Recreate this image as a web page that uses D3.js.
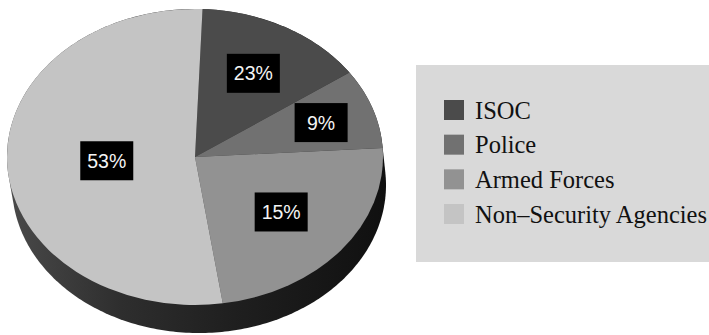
<!DOCTYPE html>
<html>
<head>
<meta charset="utf-8">
<script src="https://cdn.jsdelivr.net/npm/d3@7"></script>
<style>
  html, body { margin: 0; padding: 0; background: #ffffff; }
  svg { display: block; }
</style>
</head>
<body>
<svg id="chart" width="709" height="335"></svg>
<script>
// ---- data ----
const categories = ["ISOC", "Police", "Armed Forces", "Non-Security Agencies"];
const legendLabels = ["ISOC", "Police", "Armed Forces", "Non\u2013Security Agencies"];
// slice sizes as drawn in the picture (percent of the circle)
const sliceValues = [14.7, 8.7, 23.6, 53.0];
// label texts printed on the slices
const sliceLabels = ["23%", "9%", "15%", "53%"];
const colors = ["#4b4b4b", "#717171", "#929292", "#c4c4c4"];

(function () {
// ---- layout ----
const cx = 195, cy = 157, rx = 188, ry = 148;   // top face ellipse
const bx = 199, by = 185, brx = 187, bry = 148; // bottom (side) ellipse
const startDeg = 2.3;
const labelFrac = [0.645, 0.71, 0.59, 0.47];

const svg = d3.select("#chart");
const defs = svg.append("defs");
const grad = defs.append("linearGradient").attr("id", "sideGrad")
  .attr("x1", "0%").attr("x2", "100%").attr("y1", "0%").attr("y2", "0%");
[["0%", "#4a4a4a"], ["30%", "#2e2e2e"], ["60%", "#1f1f1f"], ["100%", "#101010"]]
  .forEach(([o, c]) => grad.append("stop").attr("offset", o).attr("stop-color", c));

// side (hull of top and bottom ellipse)
const pts = [];
for (let i = 0; i < 360; i++) {
  const a = i * Math.PI / 180;
  pts.push([cx + rx * Math.sin(a), cy - ry * Math.cos(a)]);
  pts.push([bx + brx * Math.sin(a), by - bry * Math.cos(a)]);
}
const hull = d3.polygonHull(pts);
svg.append("path")
  .attr("d", d3.line().curve(d3.curveLinearClosed)(hull))
  .attr("fill", "url(#sideGrad)");

// top face slices
const start = startDeg * Math.PI / 180;
const pie = d3.pie().sort(null).startAngle(start).endAngle(start + 2 * Math.PI);
const arcs = pie(sliceValues);
const arc = d3.arc().innerRadius(0).outerRadius(rx);
const face = svg.append("g").attr("transform", `translate(${cx},${cy}) scale(1,${ry / rx})`);
face.selectAll("path").data(arcs).join("path")
  .attr("d", arc)
  .attr("fill", (d, i) => colors[i]);

// labels
const boxW = 53, boxH = 39;
const lab = svg.append("g");
arcs.forEach((d, i) => {
  const m = (d.startAngle + d.endAngle) / 2;
  const x = cx + rx * labelFrac[i] * Math.sin(m);
  const y = cy - ry * labelFrac[i] * Math.cos(m);
  lab.append("rect").attr("x", x - boxW / 2).attr("y", y - boxH / 2)
    .attr("width", boxW).attr("height", boxH).attr("fill", "#000");
  lab.append("text").attr("x", x).attr("y", y)
    .style("font-family", "'Liberation Sans', Arial, Helvetica, sans-serif")
    .attr("text-anchor", "middle").attr("dominant-baseline", "central")
    .attr("font-size", 19.5).attr("fill", "#f4f4f4")
    .text(sliceLabels[i]);
});

// legend
const lg = svg.append("g");
lg.append("rect").attr("x", 416).attr("y", 65).attr("width", 320).attr("height", 197)
  .attr("fill", "#d9d9d9");
const ly = d3.scalePoint().domain(categories).range([100, 204]);
categories.forEach((c, i) => {
  lg.append("rect").attr("x", 444).attr("y", ly(c)).attr("width", 20).attr("height", 20)
    .attr("fill", colors[i]);
  lg.append("text").attr("x", 475).attr("y", ly(c) + 18.5)
    .style("font-family", "'Liberation Serif', 'Times New Roman', serif")
    .attr("font-size", 24.5).attr("fill", "#111")
    .text(legendLabels[i]);
});
})();
</script>
</body>
</html>
